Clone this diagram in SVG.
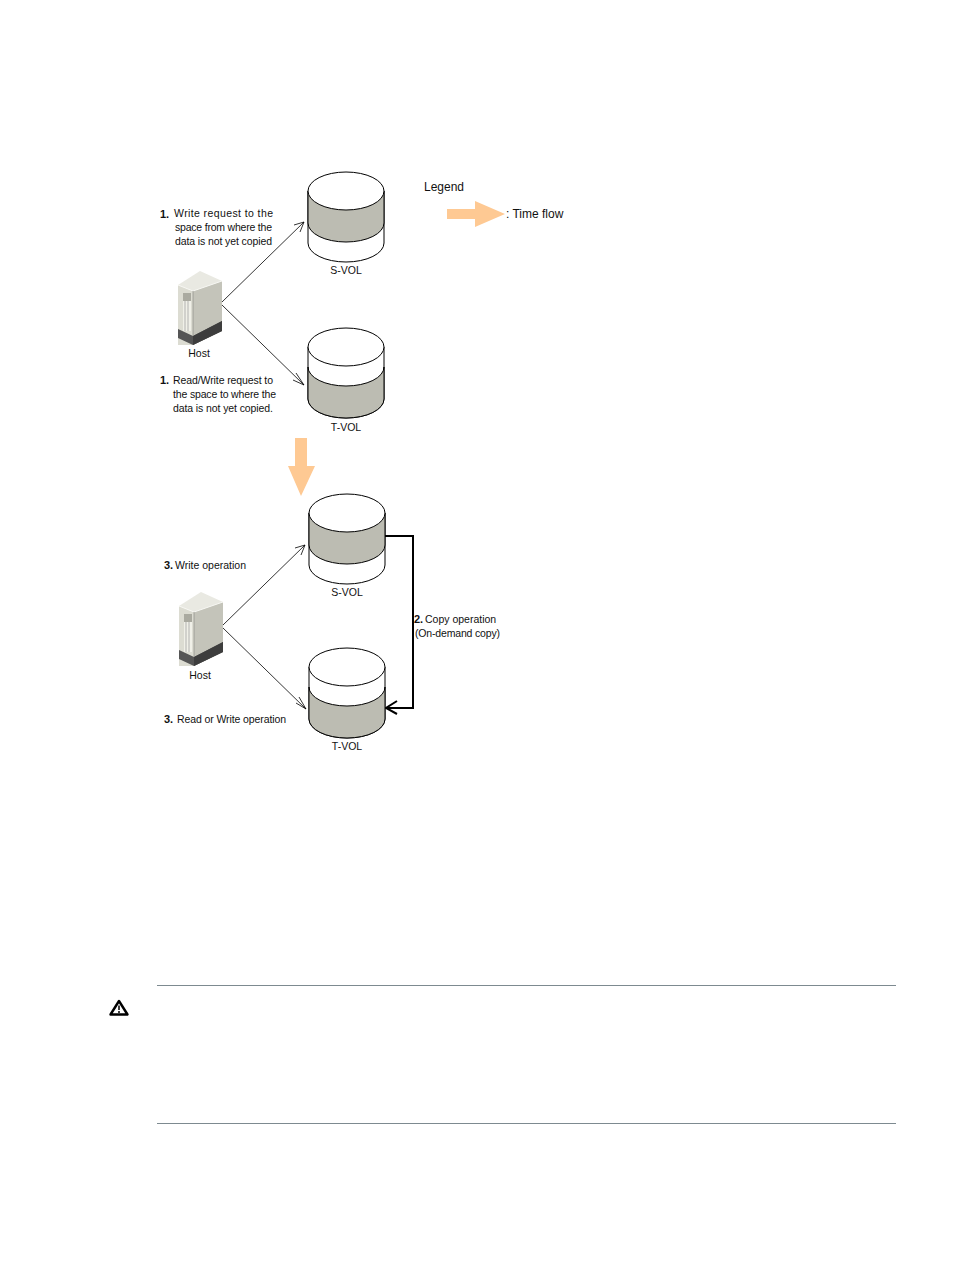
<svg xmlns="http://www.w3.org/2000/svg" width="954" height="1270" viewBox="0 0 954 1270">
<style>
text{font-family:"Liberation Sans",Arial,sans-serif;font-size:10.5px;fill:#111}
.b{font-weight:bold;font-size:11px}
.o{fill:#fff;stroke:#000;stroke-width:1}
.g{fill:#bcbcb2;stroke:#000;stroke-width:1}
.w{fill:none;stroke:#000;stroke-width:.8}
.flow{fill:#fec993}
.rule{stroke:#7d8a90;stroke-width:1}
</style>
<defs>
<!-- Volume with the shaded band in the upper half -->
<g id="volS">
<path class="o" d="M0 19V71A38 19 0 0 0 76 71V19Z"/>
<path class="g" d="M0 19V51A38 19 0 0 0 76 51V19Z"/>
<ellipse class="o" cx="38" cy="19" rx="38" ry="19"/>
</g>
<!-- Volume with the shaded band in the lower half -->
<g id="volT">
<path class="o" d="M0 19V71A38 19 0 0 0 76 71V19Z"/>
<path class="g" d="M0 39A38 19 0 0 0 76 39V71A38 19 0 0 1 0 71Z"/>
<ellipse class="o" cx="38" cy="19" rx="38" ry="19"/>
</g>
<!-- Host cabinet -->
<g id="server">
<path d="M0 14L22 0L44 10V26L22 30Z" fill="#e9e9e2"/>
<path d="M0 14L15 20V74H0Z" fill="#dcdcd2"/>
<path d="M15 20L44 10V60L15 74Z" fill="#c4c4ba"/>
<path d="M0 14L15 20L44 10" fill="none" stroke="#f8f8f4"/>
<path d="M0 58L15 65L44 50V60L15 74L0 67Z" fill="#555"/>
<path d="M15 65L44 50V60L15 74Z" fill="#3d3d3d"/>
<rect x="5" y="22" width="8" height="8" fill="#aaaaa0"/>
<rect x="5" y="30" width="8" height="30" fill="#f0f0e8"/>
<path d="M7 30V60M10 30V60" stroke="#999" stroke-width=".7"/>
<path d="M15 20V65" stroke="#8e8e86" stroke-width=".7"/>
</g>
</defs>

<g id="arrows-thin" class="connectors">
<path class="w" d="M222 302L304 222M294 225L304 222L300 232"/>
<path class="w" d="M222 305L304 385M293 380L304 385L296 373"/>
<path class="w" d="M223 625L305 545M295 548L305 545L301 555"/>
<path class="w" d="M223 628L306 709M296 703L306 709L299 697"/>
<path d="M385 536H413V708H386" fill="none" stroke="#000" stroke-width="2"/>
<path d="M397 701L386 708L397 714" fill="none" stroke="#000" stroke-width="2"/>
</g>

<g id="flow-legend"><path class="flow" d="M447 209H475V201L505 214L475 227V219H447Z"/></g>
<g id="flow-down"><path class="flow" d="M295 438H307V466H315L301 496L288 466H295Z"/></g>

<g id="svol-1"><use href="#volS" x="308" y="172"/><text x="346" y="274" text-anchor="middle">S-VOL</text></g>
<g id="tvol-1"><use href="#volT" x="308" y="328"/><text x="346" y="431" text-anchor="middle">T-VOL</text></g>
<g id="svol-2"><use href="#volS" x="309" y="494"/><text x="347" y="596" text-anchor="middle">S-VOL</text></g>
<g id="tvol-2"><use href="#volT" x="309" y="648"/><text x="347" y="750" text-anchor="middle">T-VOL</text></g>

<g id="host-1"><use href="#server" x="178" y="271"/><text x="199" y="357" text-anchor="middle">Host</text></g>
<g id="host-2"><use href="#server" x="179" y="592"/><text x="200" y="679" text-anchor="middle">Host</text></g>

<g id="labels">
<text x="424" y="191" style="font-size:12px">Legend</text>
<text x="506" y="218" style="font-size:12px">: Time flow</text>
<text class="b" x="160" y="218">1.</text>
<text x="174" y="217" textLength="99">Write request to the</text>
<text x="175" y="231" textLength="97">space from where the</text>
<text x="175" y="245" textLength="97">data is not yet copied</text>
<text class="b" x="160" y="384">1.</text>
<text x="173" y="384" textLength="100">Read/Write request to</text>
<text x="173" y="398" textLength="103">the space to where the</text>
<text x="173" y="412" textLength="100">data is not yet copied.</text>
<text class="b" x="164" y="569">3.</text>
<text x="175" y="569">Write operation</text>
<text class="b" x="164" y="723">3.</text>
<text x="177" y="723" textLength="109">Read or Write operation</text>
<text class="b" x="414" y="623">2.</text>
<text x="425" y="623">Copy operation</text>
<text x="415" y="637" textLength="85">(On-demand copy)</text>
</g>

<g id="caution">
<path d="M119 1001L127.500 1014.500H110.500Z" fill="none" stroke="#000" stroke-width="2.400" stroke-linejoin="round"/>
<path d="M119 1005.500V1010M119 1011V1013" stroke="#000" stroke-width="1.500"/>
<path class="rule" d="M157 985.500H896M157 1123.500H896"/>
</g>
</svg>
